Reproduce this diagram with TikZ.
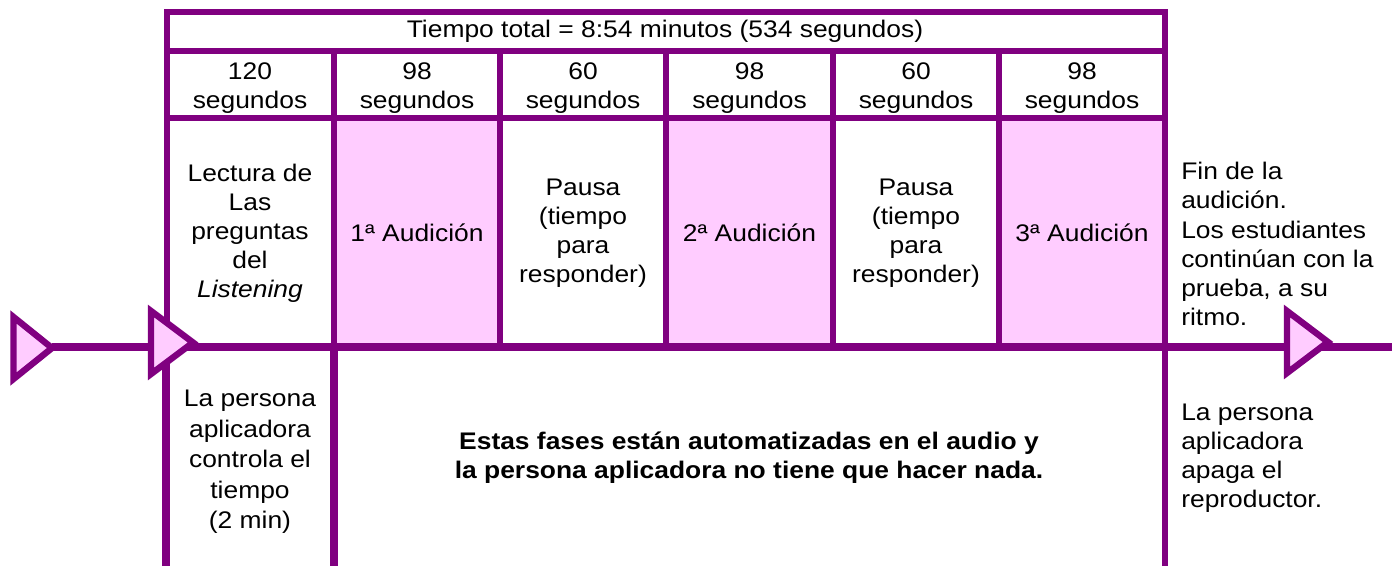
\documentclass[tikz,border=0pt]{standalone}
\usepackage{fontspec}
\setmainfont{Liberation Sans}[FakeStretch=1.1]
\definecolor{purp}{HTML}{800080}
\definecolor{pinkf}{HTML}{FFCCFF}
\begin{document}
\begin{tikzpicture}[x=0.75pt,y=-0.75pt,
  tline/.style={draw=purp, line width=4.5pt},
  thick line/.style={draw=purp, line width=6.4pt},
  tri/.style={draw=purp, fill=pinkf, line width=4.8pt, line join=miter},
  cellfill/.style={fill=pinkf},
  txt/.style={inner sep=0pt, align=center, font=\fontsize{18}{21.8}\selectfont},
  ltxt/.style={inner sep=0pt, align=left, font=\fontsize{18}{21.8}\selectfont},
  btxt/.style={inner sep=0pt, align=center, font=\fontsize{18}{21.8}\selectfont\bfseries}]
\useasboundingbox (0,0) rectangle (1392,566);
% pink cells
\fill[cellfill] (334,118.5) rectangle (500,347);
\fill[cellfill] (666,118.5) rectangle (833,347);
\fill[cellfill] (999,118.5) rectangle (1165,347);
% table
\draw[tline] (167,347) |- (1165,12) -- (1165,566);
\draw[tline] (167,51.5) -- (1165,51.5);
\draw[tline] (167,118.5) -- (1165,118.5);
\foreach \x in {334,500,666,833,999} \draw[tline] (\x,51.5) -- (\x,347);
% timeline
\coordinate (t1tip) at (52,347);
\coordinate (lineend) at (1392,347);
\draw[thick line] (t1tip) -- (lineend);
\coordinate (l1top) at (166,347);
\coordinate (l1bot) at (166,566);
\coordinate (l2top) at (334,347);
\coordinate (l2bot) at (334,566);
\draw[thick line] (l1top) -- (l1bot);
\draw[thick line] (l2top) -- (l2bot);
% triangles
\draw[tri] (13.5,317) -- (t1tip |- 0,348) -- (13.5,379) -- cycle;
\draw[tri] (151,311) -- (193,342.5) -- (151,374) -- cycle;
\draw[tri] (1287,311) -- (1328,342) -- (1287,373) -- cycle;
% texts
\node[txt] (total) at (665,31.5) {Tiempo total = 8:54 minutos (534 segundos)};
\node[txt] (s1) at (250,88) {120\\segundos};
\node[txt] (s2) at (417,88) {98\\segundos};
\node[txt] (s3) at (583,88) {60\\segundos};
\node[txt] (s4) at (749.5,88) {98\\segundos};
\node[txt] (s5) at (916,88) {60\\segundos};
\node[txt] (s6) at (1082,88) {98\\segundos};
\node[txt] (c1) at (250,233.5) {Lectura de\\Las\\preguntas\\del\\\textit{Listening}};
\node[txt] (c2) at (417,233) {1ª Audición};
\node[txt] (c3) at (583,233) {Pausa\\(tiempo\\para\\responder)};
\node[txt] (c4) at (749.5,233) {2ª Audición};
\node[txt] (c5) at (916,233) {Pausa\\(tiempo\\para\\responder)};
\node[txt] (c6) at (1082,233) {3ª Audición};
\node[ltxt, anchor=west] (fin) at (1181,244) {Fin de la\\audición.\\Los estudiantes\\continúan con la\\prueba, a su\\ritmo.};
\node[txt, font=\fontsize{18}{22.9}\selectfont] (ctrl) at (250,462) {La persona\\aplicadora\\controla el\\tiempo\\(2 min)};
\node[btxt] (auto) at (749,458) {Estas fases están automatizadas en el audio y\\la persona aplicadora no tiene que hacer nada.};
\node[ltxt, anchor=west] (apaga) at (1181,458) {La persona\\aplicadora\\apaga el\\reproductor.};
\end{tikzpicture}
\end{document}
